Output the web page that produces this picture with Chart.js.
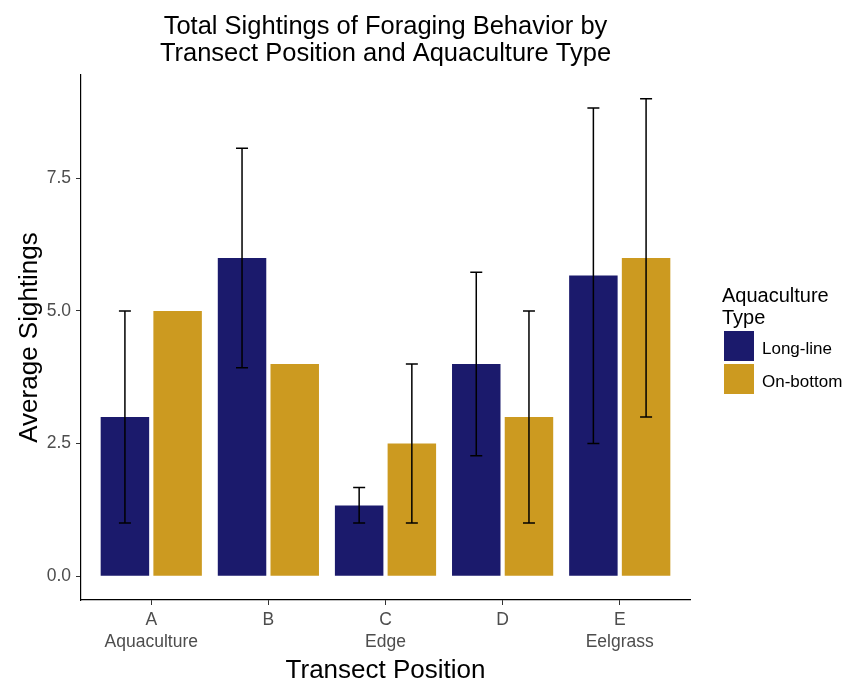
<!DOCTYPE html>
<html>
<head>
<meta charset="utf-8">
<script src="https://cdn.jsdelivr.net/npm/chart.js@4/dist/chart.umd.min.js"></script>
<style>
  html, body { margin: 0; padding: 0; background: #fff; }
  #wrap { width: 844px; height: 682px; }
</style>
</head>
<body>
<div id="wrap"><canvas id="chart" width="844" height="682"></canvas></div>
<script>
// data
const positions = [1, 2, 3, 4, 5];
const positionLetters = ['A', 'B', 'C', 'D', 'E'];
const positionNames = ['Aquaculture', '', 'Edge', '', 'Eelgrass'];
const longLineMean = [3, 6, 1.33, 4, 5.67];
const longLineLow = [1, 3.93, 1, 2.27, 2.5];
const longLineHigh = [5, 8.07, 1.67, 5.73, 8.83];
const onBottomMean = [5, 4, 2.5, 3, 6];
const onBottomLow = [null, null, 1, 1, 3];
const onBottomHigh = [null, null, 4, 5, 9];
const yTicks = [0, 2.5, 5, 7.5];

const titleLines = ['Total Sightings of Foraging Behavior by', 'Transect Position and Aquaculture Type'];
const legendTitle = ['Aquaculture', 'Type'];
const FONT = '"Liberation Sans", Arial, sans-serif';

const errors = [
  { low: longLineLow, high: longLineHigh },
  { low: onBottomLow, high: onBottomHigh }
];

const errorBars = {
  id: 'errorBars',
  afterDatasetsDraw(chart) {
    const ctx = chart.ctx, y = chart.scales.y;
    ctx.save();
    ctx.strokeStyle = '#000';
    ctx.lineWidth = 1.5;
    chart.data.datasets.forEach((ds, i) => {
      const meta = chart.getDatasetMeta(i);
      meta.data.forEach((bar, j) => {
        const lo = errors[i].low[j], hi = errors[i].high[j];
        if (lo == null || hi == null) return;
        const yl = y.getPixelForValue(lo), yh = y.getPixelForValue(hi);
        const half = 6;
        ctx.beginPath();
        ctx.moveTo(bar.x, yl); ctx.lineTo(bar.x, yh);
        ctx.moveTo(bar.x - half, yl); ctx.lineTo(bar.x + half, yl);
        ctx.moveTo(bar.x - half, yh); ctx.lineTo(bar.x + half, yh);
        ctx.stroke();
      });
    });
    ctx.restore();
  }
};

const decorations = {
  id: 'decorations',
  afterDraw(chart) {
    const ctx = chart.ctx, area = chart.chartArea;
    ctx.save();
    // title centred over the panel
    ctx.fillStyle = '#000';
    ctx.textAlign = 'center';
    ctx.textBaseline = 'alphabetic';
    ctx.font = '25.5px ' + FONT;
    const cx = (area.left + area.right) / 2;
    ctx.fillText(titleLines[0], cx, 34);
    ctx.fillText(titleLines[1], cx, 61);
    // legend
    const lx = area.right + 32;
    ctx.textAlign = 'left';
    ctx.font = '20px ' + FONT;
    ctx.fillText(legendTitle[0], lx, 302);
    ctx.fillText(legendTitle[1], lx, 324);
    ctx.font = '17px ' + FONT;
    ctx.textBaseline = 'middle';
    chart.data.datasets.forEach((ds, i) => {
      const ky = 331 + i * 33;
      ctx.fillStyle = ds.backgroundColor;
      ctx.fillRect(lx + 2, ky, 30, 30);
      ctx.fillStyle = '#000';
      ctx.fillText(ds.label, lx + 40, ky + 18);
    });
    ctx.restore();
  }
};

new Chart(document.getElementById('chart'), {
  type: 'bar',
  data: {
    datasets: [
      {
        label: 'Long-line',
        data: positions.map((p, i) => ({ x: p, y: longLineMean[i] })),
        backgroundColor: '#1b1a6c'
      },
      {
        label: 'On-bottom',
        data: positions.map((p, i) => ({ x: p, y: onBottomMean[i] })),
        backgroundColor: '#cc9a20'
      }
    ]
  },
  options: {
    responsive: false,
    animation: false,
    devicePixelRatio: 1,
    categoryPercentage: 0.9,
    barPercentage: 0.92,
    layout: { padding: { top: 75, right: 154, left: 0, bottom: 0 } },
    plugins: {
      legend: { display: false },
      tooltip: { enabled: false },
      title: { display: false }
    },
    scales: {
      x: {
        type: 'linear',
        min: 0.4,
        max: 5.6,
        offset: false,
        afterFit(s) { s.height = 82; },
        afterBuildTicks(s) { s.ticks = positions.map(v => ({ value: v })); },
        border: { display: true, color: '#000', width: 1.2 },
        grid: { display: true, drawOnChartArea: false, drawTicks: true, tickLength: 5, color: '#333', offset: false },
        ticks: {
          padding: 4,
          color: '#4d4d4d',
          font: { family: FONT, size: 17.5, lineHeight: 1.26 },
          maxRotation: 0,
          callback(v) {
            const i = positions.indexOf(v);
            if (i < 0) return '';
            return positionNames[i] ? [positionLetters[i], positionNames[i]] : positionLetters[i];
          }
        },
        title: {
          display: true,
          text: 'Transect Position',
          color: '#000',
          font: { family: FONT, size: 26, lineHeight: 1.0 },
          padding: { top: 0, bottom: -2 }
        }
      },
      y: {
        min: -0.45,
        max: 9.45,
        afterFit(s) { s.width = 81; },
        afterBuildTicks(s) { s.ticks = yTicks.map(v => ({ value: v })); },
        border: { display: true, color: '#000', width: 1.2 },
        grid: { display: true, drawOnChartArea: false, drawTicks: true, tickLength: 5, color: '#333' },
        ticks: {
          padding: 5,
          color: '#4d4d4d',
          font: { family: FONT, size: 17.5 },
          callback: v => v.toFixed(1)
        },
        title: {
          display: true,
          text: 'Average Sightings',
          color: '#000',
          font: { family: FONT, size: 26, lineHeight: 1.0 },
          padding: { top: 17, bottom: 0 }
        }
      }
    }
  },
  plugins: [errorBars, decorations]
});
</script>
</body>
</html>
